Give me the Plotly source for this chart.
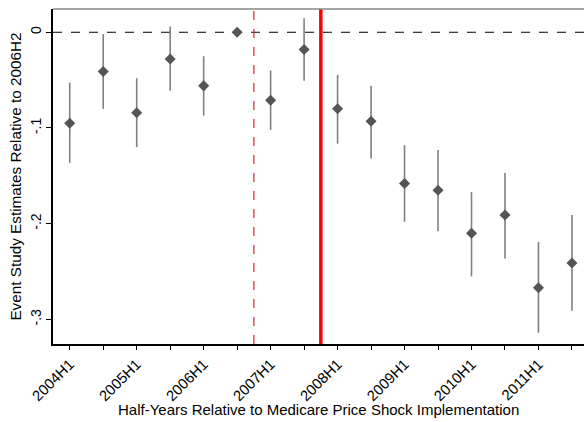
import plotly.graph_objects as go

periods = ["2004H1","2004H2","2005H1","2005H2","2006H1","2006H2","2007H1","2007H2",
           "2008H1","2008H2","2009H1","2009H2","2010H1","2010H2","2011H1","2011H2"]
estimates = [-0.095,-0.041,-0.084,-0.028,-0.056,0.0,-0.071,-0.018,
             -0.080,-0.093,-0.158,-0.165,-0.210,-0.191,-0.267,-0.241]
ci_upper = [-0.0525,-0.002,-0.048,0.006,-0.025,0.0,-0.040,0.0146,
            -0.0445,-0.056,-0.118,-0.123,-0.167,-0.147,-0.219,-0.191]
ci_lower = [-0.1365,-0.080,-0.120,-0.061,-0.087,0.0,-0.102,-0.0507,
            -0.1164,-0.132,-0.198,-0.208,-0.255,-0.2365,-0.314,-0.291]
tick_text = [p if p.endswith("H1") else "" for p in periods]
y_ticks = [0, -0.1, -0.2, -0.3]
y_tick_text = ["0", "-.1", "-.2", "-.3"]
x_title = "Half-Years Relative to Medicare Price Shock Implementation"
y_title = "Event Study Estimates Relative to 2006H2"

FONT = "Liberation Sans, Arial, sans-serif"

x_idx = list(range(len(periods)))
fig = go.Figure()
fig.add_trace(go.Scatter(
    x=x_idx, y=estimates, mode="markers",
    marker=dict(symbol="diamond", size=8.5, color="#555555"),
    error_y=dict(type="data", symmetric=False,
                 array=[u - e for u, e in zip(ci_upper, estimates)],
                 arrayminus=[e - l for l, e in zip(ci_lower, estimates)],
                 color="#808080", thickness=1.6, width=0),
    showlegend=False, cliponaxis=False,
))

# reference lines
fig.add_hline(y=0, line=dict(color="black", width=1.2, dash="dash"), layer="below")
fig.add_vline(x=5.5, line=dict(color="#e0242a", width=1.2, dash="dash"), layer="below")
fig.add_vline(x=7.5, line=dict(color="#ff0000", width=3.5), layer="below")
# top frame line
fig.add_shape(type="line", xref="paper", yref="paper", x0=0, x1=1, y0=1, y1=1,
              line=dict(color="#888888", width=1.5))

# x-axis title placed as annotation
fig.add_annotation(text=x_title, xref="paper", yref="paper", x=0.5, y=-0.195,
                   xanchor="center", yanchor="middle", showarrow=False,
                   font=dict(size=15, family=FONT, color="black"))

fig.update_layout(
    width=584, height=422,
    margin=dict(l=53, r=0, t=9, b=78),
    paper_bgcolor="white", plot_bgcolor="white",
    font=dict(family=FONT, size=14, color="black"),
    xaxis=dict(
        range=[-0.5, 15.36], tickvals=x_idx, ticktext=tick_text,
        tickangle=-45, ticks="outside", ticklen=4, tickcolor="black",
        showline=True, linecolor="black", linewidth=1.5,
        showgrid=False, zeroline=False,
        tickfont=dict(size=14.8),
    ),
    yaxis=dict(
        range=[-0.3257, 0.0243], tickvals=y_ticks, ticktext=y_tick_text,
        tickangle=-90, ticks="outside", ticklen=5, tickcolor="black",
        showline=True, linecolor="black", linewidth=1.5,
        showgrid=False, zeroline=False,
        tickfont=dict(size=14),
        title=dict(text=y_title, font=dict(size=15.3), standoff=2),
    ),
)

fig.write_html("out.html")
